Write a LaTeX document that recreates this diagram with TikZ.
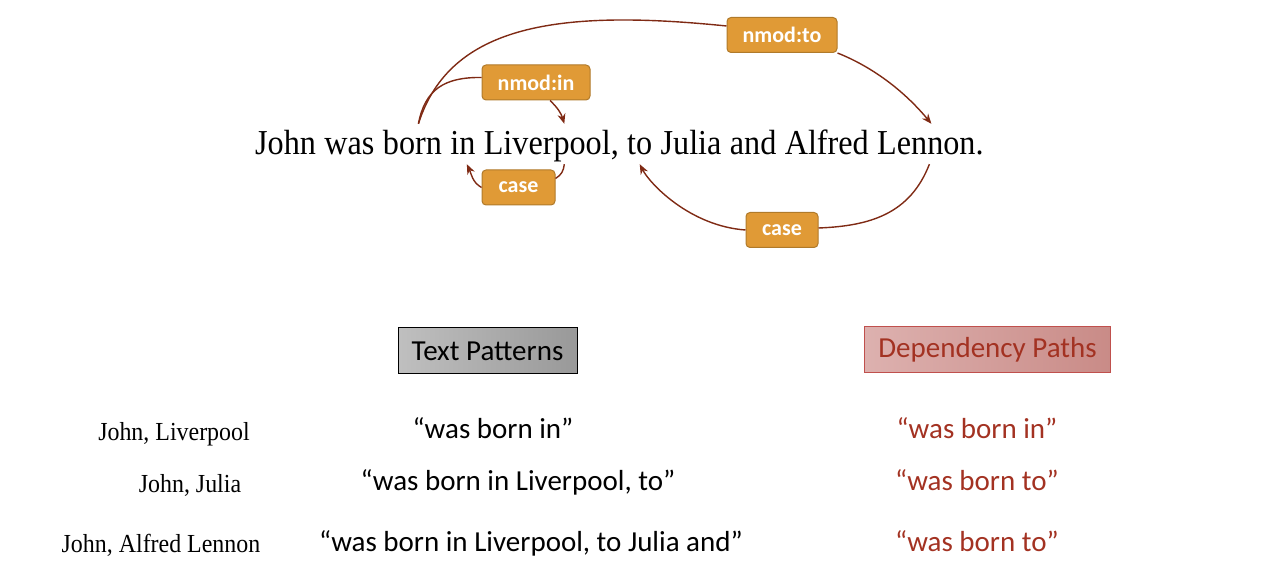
\documentclass[tikz,border=0pt]{standalone}
\usepackage{fontspec}
\newfontfamily\slideserif[FakeStretch=0.92]{Liberation Serif}
\newfontfamily\slidesans{Carlito}
\usepackage{tikz}
\usetikzlibrary{arrows.meta, positioning, calc}
\usepackage{xcolor}
\definecolor{deparrow}{HTML}{7F2A14}
\definecolor{labelfill}{HTML}{E09A36}
\definecolor{labeldraw}{HTML}{B07A2A}
\definecolor{pathred}{HTML}{A33222}
\definecolor{pathleft}{HTML}{DDB1AF}
\definecolor{pathright}{HTML}{C98B87}
\definecolor{pathdraw}{HTML}{C0504D}

\begin{document}
\begin{tikzpicture}[x=1pt, y=1pt,
  word/.style={font=\slideserif\fontsize{35}{40}\selectfont, inner sep=0pt, text height=31pt, text depth=9pt},
  rel/.style={draw=labeldraw, fill=labelfill, rounded corners=4pt, line width=1pt, text=white,
    font=\slidesans\bfseries\fontsize{22}{26}\selectfont, minimum height=35pt, inner sep=0pt},
  link/.style={draw=deparrow, line width=1.4pt},
  dep/.style={link, -{Stealth[length=10pt,width=8pt]}},
  pair/.style={font=\slideserif\fontsize{26}{30}\selectfont, anchor=base, inner sep=0pt},
  pat/.style={font=\slidesans\fontsize{29}{34}\selectfont, anchor=base, inner sep=0pt},
  head/.style={line width=1pt, minimum height=46pt, font=\slidesans\fontsize{29}{34}\selectfont}]
  \useasboundingbox (0,0) rectangle (1270,584);

  % the sentence, one node per word
  \node[word, anchor=base west] (wjohn) at (255,429) {John};
  \node[word, right=8pt of wjohn] (wwas) {was};
  \node[word, right=8pt of wwas] (wborn) {born};
  \node[word, right=8pt of wborn] (win) {in};
  \node[word, right=8pt of win] (wliverpool) {Liverpool,};
  \node[word, right=8pt of wliverpool] (wto) {to};
  \node[word, right=8pt of wto] (wjulia) {Julia};
  \node[word, right=8pt of wjulia] (wand) {and};
  \node[word, right=8pt of wand] (walfred) {Alfred};
  \node[word, right=8pt of walfred] (wlennon) {Lennon.};

  % relation labels
  \node[rel, minimum width=110pt] (nmodto) at (782,549) {nmod:to};
  \node[rel, minimum width=108pt] (nmodin) at (536,501.5) {nmod:in};
  \node[rel, minimum width=73pt] (casein) at (518.5,396.5) {case};
  \node[rel, minimum width=72pt] (caseto) at (782,354) {case};

  % dependency arcs
  \draw[link] ([xshift=6pt]wborn.north) .. controls (450,560) and (560,575) .. ([yshift=9pt]nmodto.west);
  \draw[dep] (nmodto.south east) .. controls (885,512) and (915,480) .. ([xshift=1pt]wlennon.north);
  \draw[link] ([xshift=6pt]wborn.north) .. controls (425,495) and (445,507) .. ([yshift=5pt]nmodin.west);
  \draw[dep] ([xshift=14pt]nmodin.south) to[bend left=15] ([xshift=13pt]wliverpool.north);
  \draw[link] ([xshift=13pt]wliverpool.south) to[out=-95,in=30] ([yshift=9pt]casein.east);
  \draw[dep] (casein.west) to[out=150,in=-65] ([xshift=4pt]win.south);
  \draw[link] ([xshift=-1pt]wlennon.south) .. controls (910,370) and (870,358) .. ([yshift=2pt]caseto.east);
  \draw[dep] (caseto.west) .. controls (690,358) and (650,400) .. (wto.south);

  % the two columns
  \node[head, draw=black, left color=black!25, right color=black!40, minimum width=179pt] (textpat) at (487.5,233) {Text Patterns};
  \node[head, draw=pathdraw, left color=pathleft, right color=pathright, text=pathred, minimum width=246pt] (deppath) at (987.5,234) {Dependency Paths};

  \node[pair] (pair1) at (174,143) {John, Liverpool};
  \node[pair] (pair2) at (190,91) {John, Julia};
  \node[pair] (pair3) at (161,31) {John, Alfred Lennon};

  \node[pat] (pat1) at (493,145) {“was born in”};
  \node[pat] (pat2) at (518,93) {“was born in Liverpool, to”};
  \node[pat] (pat3) at (531,32) {“was born in Liverpool, to Julia and”};

  \node[pat, text=pathred] (path1) at (977,145) {“was born in”};
  \node[pat, text=pathred] (path2) at (977,93) {“was born to”};
  \node[pat, text=pathred] (path3) at (977,32) {“was born to”};
\end{tikzpicture}
\end{document}
